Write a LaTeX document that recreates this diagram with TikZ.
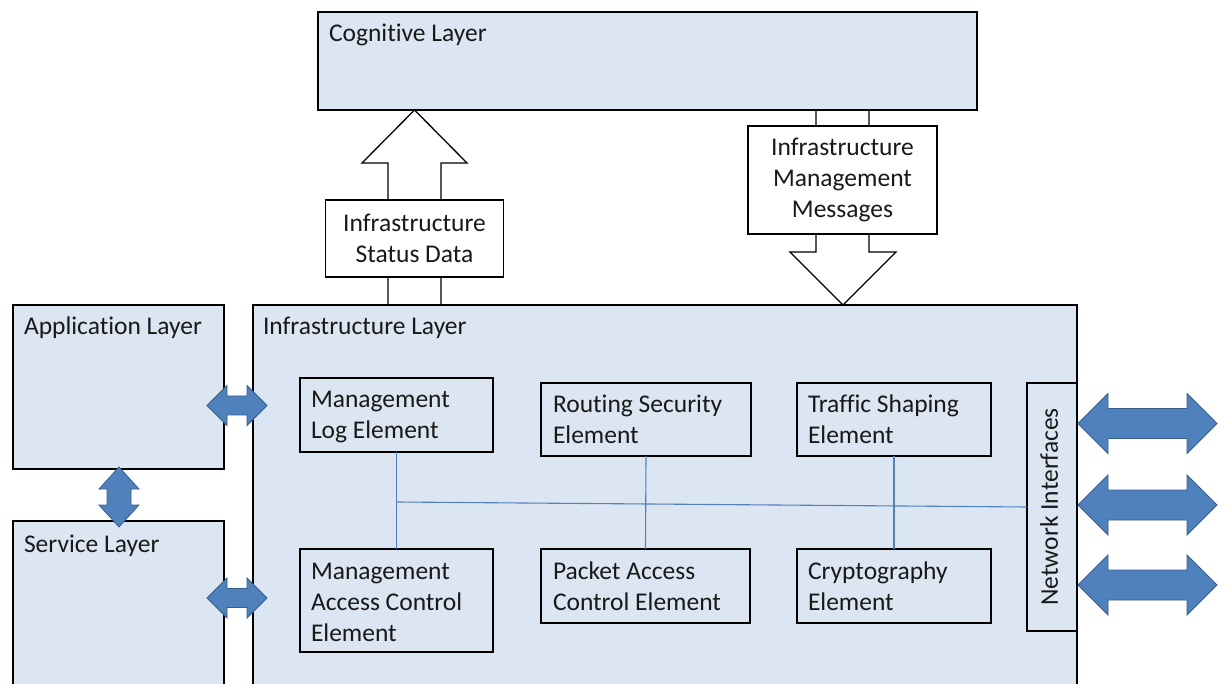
\documentclass[tikz,border=0pt]{standalone}
\usepackage{fontspec}
\setmainfont{Carlito}[Ligatures={NoCommon}]
\usetikzlibrary{calc}

\definecolor{layerfill}{HTML}{DCE6F2}
\definecolor{arrowfill}{HTML}{4F81BD}
\definecolor{arrowedge}{HTML}{385D8A}
\definecolor{busline}{HTML}{4F81BD}

% horizontal block arrow: x1, x2, y, head length, head half-height, shaft half-height
\newcommand\hblockarrow[6]{%
  \draw[blockarrow] (#1,#3) -- (#1+#4,#3-#5) -- (#1+#4,#3-#6) -- (#2-#4,#3-#6)
    -- (#2-#4,#3-#5) -- (#2,#3) -- (#2-#4,#3+#5) -- (#2-#4,#3+#6)
    -- (#1+#4,#3+#6) -- (#1+#4,#3+#5) -- cycle;}
% vertical block arrow: y1, y2, x, head length, head half-width, shaft half-width
\newcommand\vblockarrow[6]{%
  \draw[blockarrow] (#3,#1) -- (#3-#5,#1+#4) -- (#3-#6,#1+#4) -- (#3-#6,#2-#4)
    -- (#3-#5,#2-#4) -- (#3,#2) -- (#3+#5,#2-#4) -- (#3+#6,#2-#4)
    -- (#3+#6,#1+#4) -- (#3+#5,#1+#4) -- cycle;}
\newcommand\multiline[1]{\begin{tabular}[t]{@{}l@{}}#1\end{tabular}}

\begin{document}
\begin{tikzpicture}[x=1pt,y=-1pt,
  every node/.style={font=\fontsize{25.5}{31}\selectfont, text=black!90, inner sep=0pt, outer sep=0pt},
  layer/.style={draw=black, line width=1.3pt, fill=layerfill, anchor=north west},
  caption/.style={anchor=base west},
  msgbox/.style={draw=black, line width=1.3pt, fill=white, align=center},
  hollow/.style={draw=black, line width=1.3pt, fill=white, line join=miter},
  blockarrow/.style={draw=arrowedge, line width=0.8pt, fill=arrowfill, line join=miter},
  bus/.style={draw=busline, line width=1.1pt}]

\path[use as bounding box, clip] (0,0) rectangle (1224,684);

% hollow data-flow arrows between the infrastructure and cognitive layers
\draw[hollow] (388,305) -- (388,163) -- (362,163) -- (414.5,110) -- (467,163) -- (441,163) -- (441,305);
\draw[hollow] (816,110) -- (816,252) -- (790,252) -- (843,305) -- (896,252) -- (869,252) -- (869,110);

% layers
\node[layer, minimum width=659pt, minimum height=98pt] (cog) at (318,12) {};
\node[caption] at ($(cog.north west)+(11,30)$) {Cognitive Layer};

\node[layer, minimum width=824pt, minimum height=420pt] (infra) at (253,305) {};
\node[caption] at ($(infra.north west)+(10,30)$) {Infrastructure Layer};

\node[layer, minimum width=211pt, minimum height=164pt] (app) at (13,305) {};
\node[caption] at ($(app.north west)+(11,30)$) {Application Layer};

\node[layer, minimum width=211pt, minimum height=200pt] (svc) at (13,521) {};
\node[caption] at ($(svc.north west)+(11,31)$) {Service Layer};

% message labels on the hollow arrows
\node[msgbox, minimum width=178pt, minimum height=77pt] (status) at (414.5,238.5) {Infrastructure\\Status Data};
\node[msgbox, minimum width=189pt, minimum height=108pt] (msgs) at (842.5,180) {Infrastructure\\Management\\Messages};

% infrastructure elements
\node[layer, minimum width=193pt, minimum height=74pt] (mlog) at (300,378) {};
\node[caption] at ($(mlog.north west)+(11,30)$) {\multiline{Management\\Log Element}};

\node[layer, minimum width=210pt, minimum height=73pt] (rse) at (541,383) {};
\node[caption] at ($(rse.north west)+(12,30)$) {\multiline{Routing Security\\Element}};

\node[layer, minimum width=194pt, minimum height=73pt] (tse) at (797,383) {};
\node[caption] at ($(tse.north west)+(11,30)$) {\multiline{Traffic Shaping\\Element}};

\node[layer, minimum width=193pt, minimum height=103pt] (macc) at (300,549) {};
\node[caption] at ($(macc.north west)+(11,30)$) {\multiline{Management\\Access Control\\Element}};

\node[layer, minimum width=209pt, minimum height=74pt] (pace) at (541,549) {};
\node[caption] at ($(pace.north west)+(12,30)$) {\multiline{Packet Access\\Control Element}};

\node[layer, minimum width=194pt, minimum height=74pt] (cry) at (797,549) {};
\node[caption] at ($(cry.north west)+(11,30)$) {\multiline{Cryptography\\Element}};

\node[layer, minimum width=50pt, minimum height=248pt] (ni) at (1027,383) {};
\node[rotate=90] (nitext) at ($(ni.center)+(-3,0)$) {Network Interfaces};

% internal bus
\coordinate (busL) at (396.5,502);
\draw[bus] (mlog.south) -- (macc.north);
\draw[bus] (rse.south) -- (pace.north);
\draw[bus] (tse.south) -- (cry.north);
\draw[bus] (busL) -- (ni.west);

% block arrows between layers
\hblockarrow{207}{267}{405.5}{20}{20}{9.5}
\hblockarrow{207}{267}{598}{20}{20}{9.5}
\vblockarrow{467}{527}{119}{22}{20}{12}

% external network links
\hblockarrow{1078}{1217}{423.5}{30}{30}{15}
\hblockarrow{1078}{1217}{505}{30}{30}{15}
\hblockarrow{1078}{1217}{585}{30}{30}{15}

\end{tikzpicture}
\end{document}
